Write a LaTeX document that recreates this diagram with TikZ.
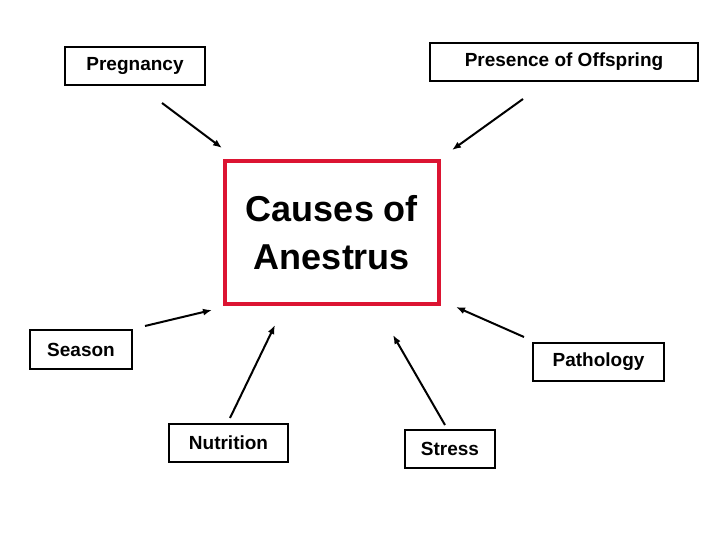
\documentclass[tikz,border=0pt]{standalone}
\usepackage{fontspec}
\setmainfont{Liberation Sans}
\usetikzlibrary{arrows.meta}
\definecolor{boxred}{RGB}{220,20,50}
\begin{document}
\begin{tikzpicture}[x=1pt,y=-1pt,
  lab/.style={draw=black,line width=2pt,font=\bfseries\fontsize{19}{24}\selectfont,inner sep=0pt},
  arr/.style={-{Latex[length=9pt,width=7pt]},line width=2pt}]
\useasboundingbox (0,0) rectangle (720,540);
\node[lab,minimum width=140,minimum height=38] (preg) at (135,66) {Pregnancy};
\node[lab,minimum width=268,minimum height=38] (off) at (564,62) {Presence of Offspring};
\node[draw=boxred,line width=4pt,minimum width=214,minimum height=143,align=center,
  font=\bfseries\fontsize{36}{48}\selectfont] (c) at (332,232.5) {Causes of\\Anestrus};
\node[lab,minimum width=102,minimum height=39] (sea) at (81,349.5) {Season};
\node[lab,minimum width=131,minimum height=38] (pat) at (598.5,362) {Pathology};
\node[lab,minimum width=119,minimum height=38] (nut) at (228.5,443) {Nutrition};
\node[lab,minimum width=90,minimum height=38] (str) at (450,449) {Stress};
\coordinate (a1s) at (162,103); \coordinate (a1e) at (222,148);
\coordinate (a2s) at (523,99); \coordinate (a2e) at (452,150);
\coordinate (a3s) at (145,326); \coordinate (a3e) at (212,310);
\coordinate (a4s) at (230,418); \coordinate (a4e) at (275,325);
\coordinate (a5s) at (445,425); \coordinate (a5e) at (393,335);
\coordinate (a6s) at (524,337); \coordinate (a6e) at (456,307);
\draw[arr] (a1s) -- (a1e);
\draw[arr] (a2s) -- (a2e);
\draw[arr] (a3s) -- (a3e);
\draw[arr] (a4s) -- (a4e);
\draw[arr] (a5s) -- (a5e);
\draw[arr] (a6s) -- (a6e);
\end{tikzpicture}
\end{document}
